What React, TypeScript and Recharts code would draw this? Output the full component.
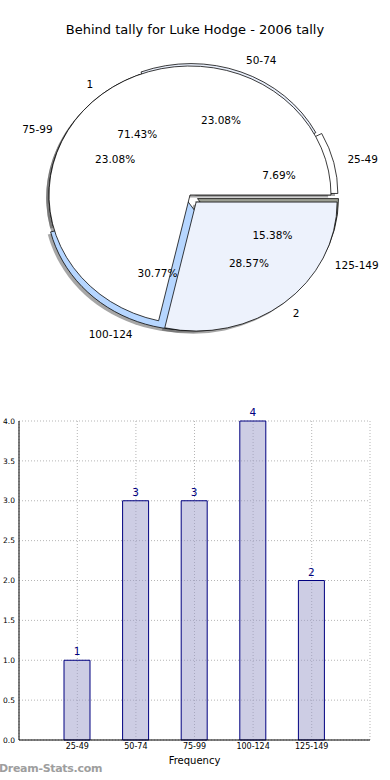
import { PieChart, Pie, Cell, BarChart, Bar, XAxis, YAxis, CartesianGrid, LabelList } from "recharts";

// tally per score range
const ranges = ["25-49", "50-74", "75-99", "100-124", "125-149"];
const frequencies = [1, 3, 3, 4, 2];
// inner split
const groups = ["1", "2"];
const groupCounts = [5, 2];
const yTicks = [0, 0.5, 1, 1.5, 2, 2.5, 3, 3.5, 4];

const rangeColors = ["#ffffff", "#e9effb", "#ffffff", "#b6d6ff", "#9da094"];
const rangeExplode = [0.05, 0.02, 0, 0.05, 0.06];
const groupColors = ["#ffffff", "#edf2fc"];
const groupExplode = [0, 0.07];

const CX = 190;
const CY = 195;
const R = 141;
const K = 129 / 141; // matplotlib axes are not square, pie comes out squashed
const RAD = Math.PI / 180;
const FONT = "'DejaVu Sans', Verdana, sans-serif";

const rangeData = ranges.map((name, i) => ({ name, value: frequencies[i] }));
const groupData = groups.map((name, i) => ({ name, value: groupCounts[i] }));
const barData = ranges.map((range, i) => ({ range, freq: frequencies[i] }));

function explodeOffset(values: number[], i: number, e: number) {
  const total = values.reduce((a, b) => a + b, 0);
  const before = values.slice(0, i).reduce((a, b) => a + b, 0);
  const mid = ((before + values[i] / 2) / total) * 360;
  return { dx: e * R * Math.cos(mid * RAD), dy: -e * R * Math.sin(mid * RAD) };
}

const unsquash = (y: number) => `translate(0 ${y}) scale(1 ${1 / K}) translate(0 ${-y})`;

function makeLabel(visible: number, names: string[], cx: number, cy: number) {
  return (p: any) => {
    if (p.index !== visible) return null;
    const a = -p.midAngle * RAD;
    const c = Math.cos(a);
    const s = Math.sin(a);
    const nx = cx + 1.1 * R * c;
    const ny = cy + 1.1 * R * s;
    const px = cx + 0.6 * R * c;
    const py = cy + 0.6 * R * s;
    return (
      <g>
        <text x={nx} y={ny} textAnchor={c >= 0 ? "start" : "end"} dominantBaseline="central"
          transform={unsquash(ny)} fontSize={10.5} fill="#000">
          {names[visible]}
        </text>
        <text x={px} y={py} textAnchor="middle" dominantBaseline="central"
          transform={unsquash(py)} fontSize={10.5} fill="#000">
          {(p.percent * 100).toFixed(2)}%
        </text>
      </g>
    );
  };
}

// shadows sit below every wedge (matplotlib gives them a lower zorder)
function shadowPies(prefix: string, data: any[], values: number[], explode: number[]) {
  return data.map((_, i) => {
    const { dx, dy } = explodeOffset(values, i, explode[i]);
    return (
      <Pie key={`${prefix}-sh-${i}`} data={data} dataKey="value" nameKey="name"
        cx={CX + dx - 0.02 * R} cy={CY + dy + 0.02 * R} outerRadius={R} startAngle={0} endAngle={360}
        isAnimationActive={false} labelLine={false}>
        {data.map((_, j) => (
          <Cell key={j} fill={j === i ? "#4d4d4d" : "none"} fillOpacity={0.5} stroke="none" />
        ))}
      </Pie>
    );
  });
}

function slicePies(prefix: string, data: any[], values: number[], names: string[], colors: string[], explode: number[]) {
  return data.map((_, i) => {
    const { dx, dy } = explodeOffset(values, i, explode[i]);
    const cx = CX + dx;
    const cy = CY + dy;
    return (
      <Pie key={`${prefix}-${i}`} data={data} dataKey="value" nameKey="name"
        cx={cx} cy={cy} outerRadius={R} startAngle={0} endAngle={360}
        isAnimationActive={false} labelLine={false} label={makeLabel(i, names, cx, cy)}>
        {data.map((_, j) => (
          <Cell key={j} fill={j === i ? colors[i] : "none"} stroke={j === i ? "#000" : "none"} strokeWidth={0.8} />
        ))}
      </Pie>
    );
  });
}

export default function App() {
  return (
    <div style={{ position: "absolute", left: 0, top: 0, width: 390, height: 780, background: "#fff", fontFamily: FONT, overflow: "hidden" }}>
      <div style={{ position: "absolute", left: 0, top: 22, width: 390, textAlign: "center", fontSize: 13, lineHeight: "16px", color: "#000" }}>
        Behind tally for Luke Hodge - 2006 tally
      </div>

      <div style={{ position: "absolute", left: 0, top: 0, width: 390, height: 380, transform: `scaleY(${K})`, transformOrigin: `${CX}px ${CY}px` }}>
        <PieChart width={390} height={380} margin={{ top: 0, right: 0, bottom: 0, left: 0 }}>
          {shadowPies("r", rangeData, frequencies, rangeExplode)}
          {shadowPies("g", groupData, groupCounts, groupExplode)}
          {slicePies("r", rangeData, frequencies, ranges, rangeColors, rangeExplode)}
          {slicePies("g", groupData, groupCounts, groups, groupColors, groupExplode)}
        </PieChart>
      </div>

      <div style={{ position: "absolute", left: 0, top: 400 }}>
        <BarChart width={390} height={380} data={barData} margin={{ top: 21, right: 20, bottom: 10, left: 0 }}>
          <CartesianGrid stroke="#b5b5b5" strokeDasharray="1 2" />
          <XAxis dataKey="range" padding={{ left: 29, right: 29 }} height={30}
            tick={{ fontSize: 8, fill: "#000" }} tickLine={false} tickSize={1} tickMargin={2}
            axisLine={{ stroke: "#000" }}
            label={{ value: "Frequency", position: "insideBottom", offset: 6, fontSize: 10, fill: "#000" }} />
          <XAxis xAxisId="top" orientation="top" dataKey="range" padding={{ left: 29, right: 29 }} height={0}
            tick={false} tickLine={false} axisLine={{ stroke: "#000" }} />
          <YAxis domain={[0, 4]} ticks={yTicks} width={19} tickFormatter={(v: number) => v.toFixed(1)}
            tick={{ fontSize: 7.5, fill: "#000" }} tickLine={false} tickSize={2} tickMargin={2}
            axisLine={{ stroke: "#000" }} />
          <YAxis yAxisId="right" orientation="right" domain={[0, 4]} width={0}
            tick={false} tickLine={false} axisLine={{ stroke: "#000" }} />
          <Bar dataKey="freq" barSize={26} fill="#9b9bc9" fillOpacity={0.5} stroke="#000080" strokeWidth={1}
            isAnimationActive={false}>
            <LabelList dataKey="freq" position="top" offset={5} fontSize={10.5} fill="#000080" />
          </Bar>
        </BarChart>
      </div>

      <div style={{ position: "absolute", left: -1, top: 762, fontSize: 11, fontWeight: "bold", color: "#9e9e9e", lineHeight: "14px", letterSpacing: "-0.3px" }}>
        Dream-Stats.com
      </div>
    </div>
  );
}
